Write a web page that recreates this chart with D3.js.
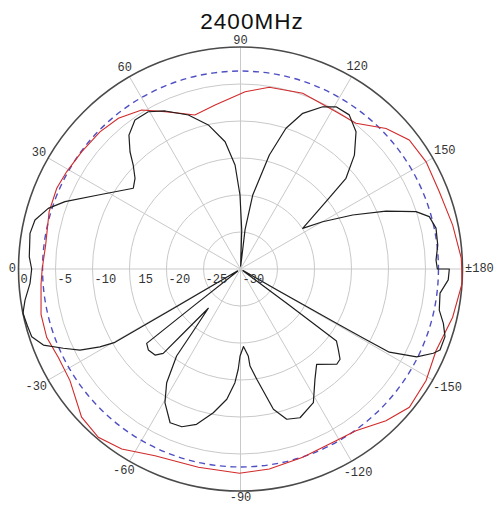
<!DOCTYPE html>
<html><head><meta charset="utf-8">
<script src="https://cdn.jsdelivr.net/npm/d3@7"></script>
<style>body{margin:0;background:#fff}</style>
</head><body><svg id="c" width="499" height="506"></svg>
<script>
const title = "2400MHz";
const ringValues = [0, -5, -10, -15, -20, -25, -30];
const ringLabels = ["0", "-5", "-10", "15", "-20", "-25", "-30"];
const angleTicks = [0, 30, 60, 90, 120, 150, 180, -150, -120, -90, -60, -30];
const angleLabels = ["0", "30", "60", "90", "120", "150", "\u00b1180", "-150", "-120", "-90", "-60", "-30"];
const refLevel = -3.25;

const blackAngle = [-180, -177.0, -173.1, -168.3, -165.0, -161.7, -157.9, -156.4, -153.5, -150.8, -150.6, -150.5, -150.4, -150.2, -149.5, -145.0, -143.5, -143.1, -140.6, -137.8, -135.3, -128.6, -124.0, -118.6, -111.8, -107.1, -103.2, -98.4, -95.6, -95.1, -92.2, -89.7, -88.7, -87.2, -84.0, -79.3, -74.2, -69.6, -65.4, -60.5, -57.0, -53.7, -52.8, -50.7, -48.5, -47.5, -45.2, -41.3, -38.4, -38.2, -38.0, -31.0, -30.5, -30.3, -29.0, -26.8, -24.1, -21.1, -18.0, -15.0, -11.5, -8.2, -3.9, 0, 3.3, 9.6, 13.4, 17.5, 21.0, 27.5, 37.0, 40.7, 44.1, 46.7, 50.2, 54.7, 59.6, 64.5, 71.3, 77.4, 83.1, 87.0, 89.6, 91.8, 93.0, 95.0, 96.6, 99.4, 104.2, 107.9, 111.8, 116.9, 120.5, 125.2, 130.1, 135.0, 139.3, 141.8, 146.8, 150.1, 154.3, 158.3, 161.9, 164.5, 168.2, 173.1, 177.4, 180];
const blackGain = [-1.78, -1.89, -2.84, -2.57, -1.62, -0.89, -0.9, -1.57, -3.4, -6.96, -10.85, -15.11, -20.35, -24.5, -29.6, -29.6, -21.9, -13.78, -12.9, -11.84, -11.7, -13.51, -12.01, -9.43, -8.35, -8.76, -10.53, -14.93, -16.82, -18.2, -19.51, -18.24, -16.45, -14.62, -12.3, -10.23, -8.19, -7.26, -7.15, -9.26, -11.68, -15.41, -19.27, -23.14, -18.85, -14.54, -13.61, -13.42, -13.82, -22.0, -29.5, -29.5, -19.19, -10.36, -8.28, -5.7, -3.77, -1.45, -0.34, -0.2, 0.0, -0.58, -1.49, -1.78, -1.41, -1.15, -1.45, -2.76, -4.59, -8.34, -11.86, -11.2, -9.81, -8.23, -6.45, -5.32, -5.36, -6.34, -8.03, -10.05, -12.68, -15.93, -20.0, -24.73, -29.6, -29.6, -24.69, -19.86, -14.11, -10.01, -7.34, -5.42, -4.55, -4.51, -5.76, -8.23, -11.2, -15.3, -19.96, -17.19, -13.18, -8.84, -5.05, -3.53, -3.01, -3.15, -3.55, -3.4];

const redAngle = [-180, -176.2, -167.2, -157.3, -149.0, -140.7, -133.8, -125.5, -119.1, -108.3, -98.2, -89.7, -78.0, -65.4, -56.6, -49.8, -43.0, -33.2, -25.9, -19.4, -12.8, -4.3, 0, 7.0, 16.7, 23.7, 29.2, 36.5, 44.3, 51.0, 58.1, 64.4, 73.5, 81.2, 91.5, 99.0, 109.5, 121.3, 128.4, 136.0, 142.6, 150.0, 158.7, 168.3, 177.2];
const redGain = [-0.1, 0.0, -0.6, -1.36, -0.74, -0.51, -1.6, -3.15, -3.45, -3.2, -2.7, -2.39, -2.6, -2.25, -0.85, -0.23, -0.64, -2.46, -2.64, -2.23, -2.36, -2.97, -3.2, -3.47, -3.0, -2.88, -3.08, -3.32, -3.46, -3.78, -4.7, -6.42, -8.3, -7.57, -6.03, -5.14, -4.81, -5.14, -4.88, -2.65, -1.3, -1.04, -1.18, -0.72, -0.13];

const cx = 240.5, cy = 269, R = 222;
const svg = d3.select("#c");
const r = d3.scaleLinear().domain([-30, 0]).range([0, R]);
const a = d3.scaleLinear().domain([-180, 180]).range([-1.5 * Math.PI, 0.5 * Math.PI]);
const px = (ang, rad) => rad * Math.sin(a(ang));
const py = (ang, rad) => -rad * Math.cos(a(ang));

svg.append("text").attr("x", 252).attr("y", 29).attr("text-anchor", "middle")
  .attr("font-family", "Liberation Sans, Arial, sans-serif").attr("font-size", 22.5)
  .attr("letter-spacing", 1)
  .attr("fill", "#111").text(title);

const g = svg.append("g").attr("transform", `translate(${cx},${cy})`);

// grid rings
g.selectAll("circle.ring").data(ringValues.filter(v => v > -30 && v < 0)).join("circle")
  .attr("class", "ring").attr("r", d => r(d)).attr("fill", "none")
  .attr("stroke", "#c9c9c9").attr("stroke-width", 1);

// spokes
g.selectAll("line.spoke").data(angleTicks).join("line").attr("class", "spoke")
  .attr("x1", 0).attr("y1", 0)
  .attr("x2", d => px(d, R)).attr("y2", d => py(d, R))
  .attr("stroke", "#c9c9c9").attr("stroke-width", 1);

// outer circle
g.append("circle").attr("r", r(0)).attr("fill", "none").attr("stroke", "#4a4a4a").attr("stroke-width", 1.6);

// reference dashed circle
g.append("circle").attr("r", r(refLevel)).attr("fill", "none")
  .attr("stroke", "#4f4fc4").attr("stroke-width", 1.4).attr("stroke-dasharray", "6,4.5");

const line = d3.lineRadial().angle(d => a(d[0])).radius(d => r(d[1])).curve(d3.curveLinearClosed);

g.append("path").datum(redAngle.map((v, i) => [v, redGain[i]])).attr("d", line)
  .attr("fill", "none").attr("stroke", "#d22a2a").attr("stroke-width", 1.1);

g.append("path").datum(blackAngle.map((v, i) => [v, blackGain[i]])).attr("d", line)
  .attr("fill", "none").attr("stroke", "#1e1e1e").attr("stroke-width", 1.2).attr("stroke-linejoin", "round");

// ring labels
const mono = "Liberation Mono, DejaVu Sans Mono, monospace";
g.selectAll("text.rl").data(ringValues).join("text").attr("class", "rl")
  .attr("x", (d, i) => -r(d) + 2 + (ringLabels[i][0] !== "-" && d !== 0 ? 7 : 0))
  .attr("y", 14)
  .attr("font-family", mono).attr("font-size", 12).attr("fill", "#333")
  .text((d, i) => ringLabels[i]);

// angle labels
const al = g.selectAll("text.al").data(angleTicks).join("text").attr("class", "al")
  .attr("text-anchor", "middle").attr("dominant-baseline", "central")
  .attr("font-family", mono).attr("font-size", 12).attr("fill", "#333")
  .text((d, i) => angleLabels[i]);
al.each(function(d) {
  const w = this.getComputedTextLength();
  const ang = a(d);
  const off = 2.5 + Math.abs(Math.sin(ang)) * w / 2 + Math.abs(Math.cos(ang)) * 4;
  d3.select(this).attr("x", px(d, R + off)).attr("y", py(d, R + off));
});
</script>
</body></html>
